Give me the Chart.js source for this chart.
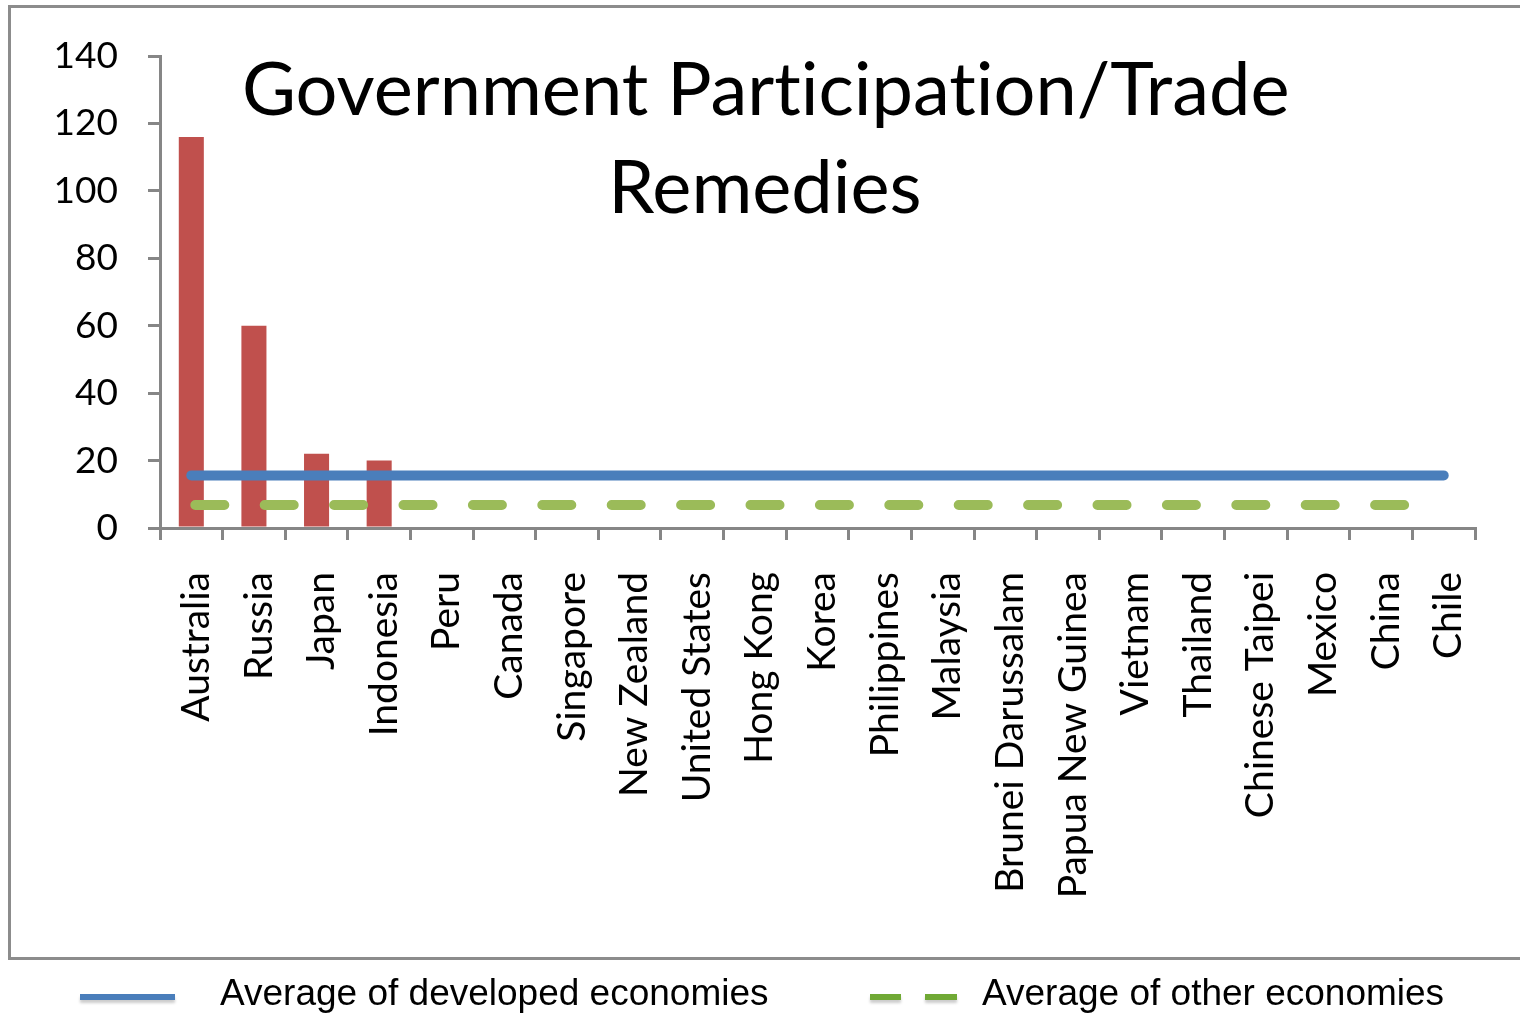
<!DOCTYPE html>
<html>
<head>
<meta charset="utf-8">
<script src="https://cdn.jsdelivr.net/npm/chart.js@4/dist/chart.umd.min.js"></script>
<style>
  html, body { margin: 0; padding: 0; background: #fff; }
  #wrap { position: relative; width: 1520px; height: 1014px; overflow: hidden; }
  #frame { position: absolute; left: 8px; top: 5px; width: 1530px; height: 949px; border: 3px solid #8c8c8c; }
  #chart { position: absolute; left: 0; top: 0; }
  .title { position: absolute; width: 1000px; text-align: center; font-family: Lato, sans-serif; font-size: 74px; color: #000; white-space: nowrap; line-height: 1; font-variant-ligatures: none; }
  .legend-text { position: absolute; top: 974px; font-family: "Liberation Sans", Arial, sans-serif; font-size: 37px; color: #000; white-space: nowrap; line-height: 1; }
  .swatch { position: absolute; height: 6px; box-shadow: 0 3px 3px rgba(0,0,0,0.2); }
</style>
</head>
<body>
<div id="wrap">
  <div id="frame"></div>
  <canvas id="chart" width="1520" height="1014"></canvas>
  <div class="title" style="left:242px; top:50px">Government Participation/Trade</div>
  <div class="title" style="left:265px; top:148px">Remedies</div>

  <div class="swatch" style="left:80px; top:994px; width:95px; background:#4a7ebb"></div>
  <div class="legend-text" style="left:220px">Average of developed economies</div>
  <div class="swatch" style="left:870px; top:994px; width:31px; background:#70a935"></div>
  <div class="swatch" style="left:925px; top:994px; width:32px; background:#70a935"></div>
  <div class="legend-text" style="left:982px">Average of other economies</div>
</div>

<script>
// Chart data
const economies = ['Australia', 'Russia', 'Japan', 'Indonesia', 'Peru', 'Canada', 'Singapore',
    'New Zealand', 'United States', 'Hong Kong', 'Korea', 'Philippines', 'Malaysia',
    'Brunei Darussalam', 'Papua New Guinea', 'Vietnam', 'Thailand', 'Chinese Taipei',
    'Mexico', 'China', 'Chile'];
const measures = [116, 60, 22, 20, 0, 0, 0, 0, 0, 0, 0, 0, 0, 0, 0, 0, 0, 0, 0, 0, 0];
const developedAvg = economies.map(() => 15.6);
const otherAvg = economies.map(() => 6.8);
const yTicks = [0, 20, 40, 60, 80, 100, 120, 140];

const axisColor = '#868686';

new Chart(document.getElementById('chart'), {
    type: 'bar',
    data: {
        labels: economies,
        datasets: [{
            type: 'line',
            label: 'Average of developed economies',
            data: developedAvg,
            borderColor: '#4a7ebb',
            borderWidth: 10,
            borderCapStyle: 'round',
            pointRadius: 0,
            fill: false,
            order: 1
        }, {
            type: 'line',
            label: 'Average of other economies',
            data: otherAvg,
            borderColor: '#9bbb59',
            borderWidth: 10,
            borderCapStyle: 'round',
            borderDash: [29, 40.4],
            borderDashOffset: -4,
            pointRadius: 0,
            fill: false,
            order: 2
        }, {
            label: 'Measures',
            data: measures,
            backgroundColor: '#c0504d',
            categoryPercentage: 1,
            barPercentage: 0.4,
            order: 3
        }]
    },
    options: {
        responsive: false,
        animation: false,
        layout: { padding: { top: 56, right: 45, left: 0, bottom: 0 } },
        plugins: { legend: { display: false }, tooltip: { enabled: false }, title: { display: false } },
        scales: {
            x: {
                afterFit: (scale) => {
                    scale.height = 486;
                    scale.paddingLeft = 0;
                    scale.paddingRight = 0;
                },
                border: { color: axisColor, width: 3 },
                grid: { offset: true, drawOnChartArea: false, drawTicks: true, tickLength: 12, tickColor: axisColor, lineWidth: 3 },
                ticks: {
                    color: '#000', font: { family: 'Lato, sans-serif', size: 39 },
                    minRotation: 90, maxRotation: 90, padding: 32, labelOffset: 5, autoSkip: false
                }
            },
            y: {
                min: 0,
                max: 140,
                afterFit: (scale) => { scale.width = 160; },
                afterBuildTicks: (scale) => { scale.ticks = yTicks.map(v => ({ value: v })); },
                border: { color: axisColor, width: 3 },
                grid: { drawOnChartArea: false, drawTicks: true, tickLength: 12, tickColor: axisColor, lineWidth: 3 },
                ticks: { color: '#000', font: { family: 'Lato, sans-serif', size: 37 }, padding: 30 }
            }
        }
    }
});
</script>
</body>
</html>
